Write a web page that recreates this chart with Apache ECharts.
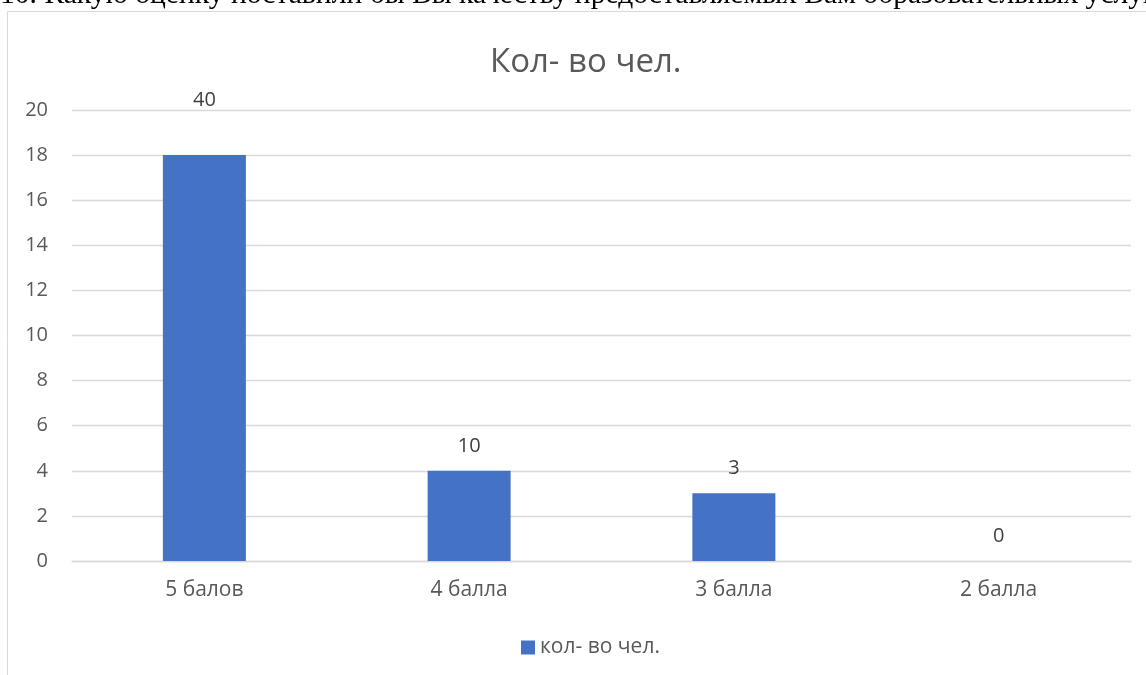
<!DOCTYPE html>
<html>
<head>
<meta charset="utf-8">
<script src="https://cdn.jsdelivr.net/npm/echarts@6/dist/echarts.min.js"></script>
<style>
html,body{margin:0;padding:0;background:#fff;}
#chart{width:1146px;height:675px;}
</style>
</head>
<body>
<div id="chart"></div>
<script>
const pageHeading = "10. Какую оценку поставили бы Вы качеству предоставляемых Вам образовательных услуг";
const chartTitle = "Кол- во чел.";
const seriesName = "кол- во чел.";
const categories = ["5 балов", "4 балла", "3 балла", "2 балла"];
const values = [18, 4, 3, 0];
const dataLabels = ["40", "10", "3", "0"];
const labelDistances = [45, 15, 15, 15];

const chart = echarts.init(document.getElementById('chart'));
const font = '"Open Sans", "Noto Sans", sans-serif';
chart.setOption({
  animation: false,
  backgroundColor: '#fff',
  graphic: [
    { type: 'rect', x: 0, y: 0, shape: { x: 7.5, y: 11.5, width: 1160, height: 680 },
      style: { fill: 'none', stroke: '#d9d9d9', lineWidth: 1 }, z: -1 },
    { type: 'text', x: 0, y: 10,
      style: { text: pageHeading, font: '29.6px "Liberation Serif", "Times New Roman", serif', fill: '#000', verticalAlign: 'bottom' } }
  ],
  title: {
    text: chartTitle, left: 485, top: 41,
    textStyle: { fontFamily: font, fontSize: 33, fontWeight: 'normal', color: '#595959' }
  },
  legend: {
    bottom: 12, left: 516, itemWidth: 14, itemHeight: 14, itemGap: 10,
    textStyle: { fontFamily: font, fontSize: 21, color: '#595959' },
    icon: 'rect', data: [seriesName]
  },
  grid: { left: 72, right: 15, top: 110, bottom: 114 },
  xAxis: {
    type: 'category', data: categories,
    axisLine: { show: true, lineStyle: { color: '#d9d9d9', width: 1.3 } },
    axisTick: { show: false },
    axisLabel: { fontFamily: font, fontSize: 21, color: '#595959', margin: 19 }
  },
  yAxis: {
    type: 'value', min: 0, max: 20, interval: 2,
    axisLine: { show: false }, axisTick: { show: false },
    splitLine: { lineStyle: { color: '#d9d9d9', width: 1.3 } },
    axisLabel: { fontFamily: font, fontSize: 20, color: '#595959', margin: 24 }
  },
  series: [{
    name: seriesName, type: 'bar', barWidth: 83,
    itemStyle: { color: '#4472C4' },
    data: values.map((v, i) => ({
      value: v,
      label: { show: true, position: 'top', distance: labelDistances[i], formatter: dataLabels[i],
        fontFamily: font, fontSize: 20, color: '#404040' }
    }))
  }]
});
</script>
</body>
</html>
